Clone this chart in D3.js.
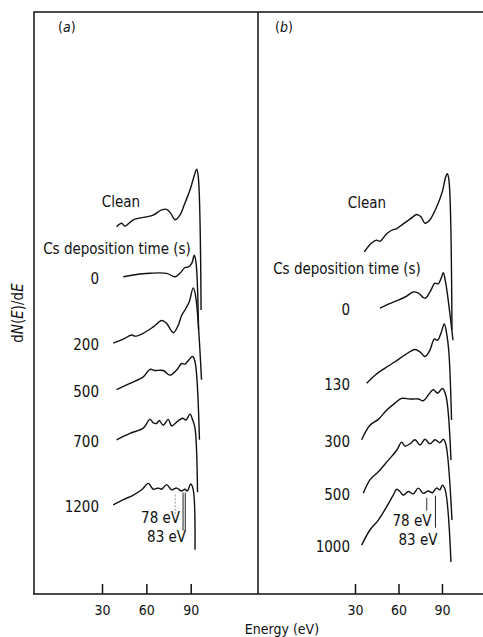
<!DOCTYPE html>
<html>
<head>
<meta charset="utf-8">
<script src="https://cdn.jsdelivr.net/npm/d3@7"></script>
<style>
  body { margin: 0; background: #fff; }
  svg text { font-family: "DejaVu Sans Condensed", "DejaVu Sans", sans-serif; fill: #111; }
</style>
</head>
<body>
<svg id="chart" width="483" height="637"></svg>
<script>
// energy ticks and the two marked transitions (positions)
const energyTicks = [30, 60, 90];
const markerEnergies = [79.5, 85.5];
const markerLabels = ["78 eV", "83 eV"];

const timesA = ["0", "200", "500", "700", "1200"];
const timesB = ["0", "130", "300", "500", "1000"];

// spectra, [energy eV, dN/dE arb. units incl. vertical offset]
const specA_clean = [[39.9,63.1],[43.3,63.7],[45.5,63.2],[51.2,64.3],[60.2,64.8],[64.5,65.1],[70.4,66.0],[73.7,66.1],[76.5,65.4],[79.4,64.3],[82.7,65.1],[86.1,67.2],[89.5,69.4],[92.4,71.9],[94.0,73.0],[95.1,71.7],[97.0,48.8]];
const specA_0 = [[44.4,54.5],[51.2,54.8],[62.4,55.1],[73.7,55.1],[79.4,54.5],[82.7,55.1],[86.1,56.1],[88.4,56.2],[90.7,56.8],[92.4,58.2],[93.6,56.9],[95.3,45.4]];
const specA_200 = [[37.6,43.1],[44.4,43.8],[50.1,44.5],[52.3,44.3],[57.9,44.8],[64.7,45.9],[70.4,47.0],[73.7,46.5],[78.2,44.9],[81.6,46.2],[83.9,47.9],[86.8,49.1],[89.0,50.2],[91.7,52.6],[93.2,51.4],[97.3,36.8]];
const specA_500 = [[39.9,35.1],[48.9,36.2],[57.9,37.3],[62.4,38.6],[65.8,38.4],[71.4,38.4],[76.0,37.6],[80.5,38.5],[83.9,39.6],[86.1,39.5],[87.7,39.9],[89.0,40.3],[91.3,40.8],[92.9,39.9],[95.9,26.5]];
const specA_700 = [[39.9,26.5],[48.9,27.6],[57.9,28.5],[62.4,30.0],[64.7,29.4],[67.0,29.3],[68.7,29.8],[71.4,29.0],[74.8,30.0],[77.1,28.9],[81.6,29.8],[84.6,30.2],[86.8,29.9],[89.5,30.9],[91.3,29.9],[92.9,28.5],[94.6,17.5]];
const specA_1200 = [[37.6,15.3],[44.4,16.2],[51.2,17.0],[56.8,17.9],[61.3,19.0],[64.7,18.0],[68.1,18.2],[70.4,18.0],[73.7,18.8],[77.1,17.9],[80.5,18.2],[83.9,17.7],[86.1,18.0],[87.7,17.7],[90.0,18.9],[91.7,17.9],[92.9,7.6]];

const specB_clean = [[36.4,58.8],[41.5,60.3],[45.0,60.8],[47.2,60.6],[51.9,61.9],[55.3,62.5],[58.8,62.8],[63.3,63.6],[67.9,64.4],[72.6,65.2],[75.5,64.8],[78.3,63.7],[81.7,64.3],[86.3,66.5],[90.2,69.1],[92.6,71.7],[93.7,72.2],[94.8,71.1],[96.9,45.4]];
const specB_0 = [[47.2,49.1],[53.0,49.8],[59.9,50.5],[65.7,51.2],[70.2,51.9],[73.7,51.7],[78.3,50.8],[81.7,51.9],[85.2,53.4],[87.4,53.3],[89.8,54.5],[90.9,55.2],[92.6,53.4],[97.6,43.6]];
const specB_130 = [[38.1,36.2],[43.8,37.6],[50.7,38.8],[57.6,39.9],[64.5,41.1],[71.4,42.0],[74.8,41.6],[78.3,40.8],[81.7,41.9],[84.7,43.8],[87.0,43.6],[89.3,44.8],[91.6,46.4],[93.2,44.8],[94.8,41.4],[96.6,29.9]];
const specB_300 = [[34.6,26.5],[40.3,29.0],[46.1,30.0],[51.9,31.6],[57.6,32.8],[62.2,33.6],[67.9,33.5],[73.7,33.5],[77.1,33.2],[80.6,34.2],[84.0,35.1],[87.0,34.5],[90.2,35.3],[92.6,34.2],[96.2,23.0]];
const specB_500 = [[35.7,17.3],[40.3,19.6],[46.1,21.0],[53.0,23.0],[58.8,24.7],[62.2,26.1],[64.5,25.4],[67.9,25.8],[71.4,26.5],[74.8,25.6],[78.3,26.6],[81.7,25.8],[85.2,26.5],[88.6,26.0],[90.9,26.6],[92.6,25.8],[96.9,12.7]];
const specB_1000 = [[34.6,8.4],[40.3,11.0],[46.1,12.7],[51.9,15.0],[56.4,17.0],[58.8,18.0],[61.0,17.6],[63.3,17.0],[66.8,17.6],[70.2,17.2],[73.7,18.2],[77.1,17.3],[80.6,17.7],[83.3,17.4],[86.3,18.2],[88.6,17.9],[90.2,18.7],[92.1,18.0],[96.2,5.5]];

const svg = d3.select("svg#chart");
const frameTop = 12, frameBottom = 594, frameLeft = 34, frameMid = 258, frameRight = 483;

const y = d3.scaleLinear().domain([0, 100]).range([frameBottom, frameTop]);

const panels = [
  { tag: "a", x: d3.scaleLinear().domain([-16, 135.5]).range([frameLeft, frameMid]),
    clean: specA_clean, spectra: [specA_0, specA_200, specA_500, specA_700, specA_1200], times: timesA,
    tagX: 58, labelX: 99, cleanPos: [121, 207], csPos: [117, 254] },
  { tag: "b", x: d3.scaleLinear().domain([-36.9, 118.3]).range([frameMid, frameRight]),
    clean: specB_clean, spectra: [specB_0, specB_130, specB_300, specB_500, specB_1000], times: timesB,
    tagX: 275, labelX: 350, cleanPos: [367, 208], csPos: [347, 274] }
];

// frame
svg.append("path")
  .attr("d", `M${frameLeft},${frameBottom}V${frameTop}H${frameRight}M${frameMid},${frameTop}V${frameBottom}M${frameLeft - 1},${frameBottom}H${frameRight}`)
  .attr("fill", "none")
  .attr("stroke", "#111")
  .attr("stroke-width", 1.5);

function valueAt(spec, e) {
  for (let i = 1; i < spec.length; i++) {
    if (spec[i][0] >= e) {
      const [e0, v0] = spec[i - 1], [e1, v1] = spec[i];
      return v0 + (v1 - v0) * (e - e0) / (e1 - e0);
    }
  }
  return spec[spec.length - 1][1];
}

panels.forEach(p => {
  const g = svg.append("g");

  const axis = g.append("g")
    .attr("transform", `translate(0,${frameBottom})`)
    .call(d3.axisBottom(p.x).tickValues(energyTicks).tickSize(-10).tickPadding(11).tickFormat(d3.format("d")))
    .attr("font-size", 14);
  axis.select(".domain").remove();
  axis.selectAll(".tick line").attr("stroke", "#111").attr("stroke-width", 1.5);

  g.append("text")
    .attr("x", p.tagX).attr("y", 32)
    .attr("font-size", 14)
    .html(`(<tspan font-style="italic">${p.tag}</tspan>)`);

  const line = d3.line()
    .x(d => p.x(d[0]))
    .y(d => y(d[1]))
    .curve(d3.curveCatmullRom.alpha(0.5));

  const all = [p.clean].concat(p.spectra);
  g.selectAll(".spec")
    .data(all)
    .enter().append("path")
    .attr("class", "spec")
    .attr("d", line)
    .attr("fill", "none")
    .attr("stroke", "#111")
    .attr("stroke-width", 1.4)
    .attr("stroke-linejoin", "round");

  g.append("text")
    .attr("x", p.cleanPos[0]).attr("y", p.cleanPos[1])
    .attr("text-anchor", "middle").attr("font-size", 15)
    .text("Clean");

  g.append("text")
    .attr("x", p.csPos[0]).attr("y", p.csPos[1])
    .attr("text-anchor", "middle").attr("font-size", 15)
    .text("Cs deposition time (s)");

  g.selectAll(".tlab")
    .data(p.spectra)
    .enter().append("text")
    .attr("class", "tlab")
    .attr("x", p.labelX)
    .attr("y", d => y(d[0][1]) + 7)
    .attr("text-anchor", "end").attr("font-size", 15)
    .text((d, i) => p.times[i]);

  // markers under the last spectrum
  const last = p.spectra[p.spectra.length - 1];
  const mTop = y(valueAt(last, markerEnergies[0])) + 6;
  const x78 = p.x(markerEnergies[0]), x83 = p.x(markerEnergies[1]);
  g.append("line")
    .attr("x1", x78).attr("x2", x78).attr("y1", mTop).attr("y2", mTop + (p.tag === "a" ? 20 : 13))
    .attr("stroke", p.tag === "a" ? "#999" : "#333").attr("stroke-width", 1)
    .attr("stroke-dasharray", p.tag === "a" ? "2,1.5" : null);
  const dbl = p.tag === "a" ? [-1, 1.2] : [0];
  dbl.forEach(o => {
    g.append("line")
      .attr("x1", x83 + o).attr("x2", x83 + o).attr("y1", mTop - 2).attr("y2", mTop + (p.tag === "a" ? 36 : 30))
      .attr("stroke", "#222").attr("stroke-width", 1);
  });
  g.append("text")
    .attr("x", x83 - 4).attr("y", mTop + 28)
    .attr("text-anchor", "end").attr("font-size", 15)
    .text(markerLabels[0]);
  g.append("text")
    .attr("x", x83 + 2).attr("y", mTop + 47)
    .attr("text-anchor", "end").attr("font-size", 15)
    .text(markerLabels[1]);
});

// axis titles
svg.append("text")
  .attr("transform", "translate(23,313) rotate(-90)")
  .attr("text-anchor", "middle").attr("font-size", 15)
  .html('d<tspan font-style="italic">N</tspan>(<tspan font-style="italic">E</tspan>)/d<tspan font-style="italic">E</tspan>');

svg.append("text")
  .attr("x", 282).attr("y", 634)
  .attr("text-anchor", "middle").attr("font-size", 14)
  .text("Energy (eV)");
</script>
</body>
</html>
